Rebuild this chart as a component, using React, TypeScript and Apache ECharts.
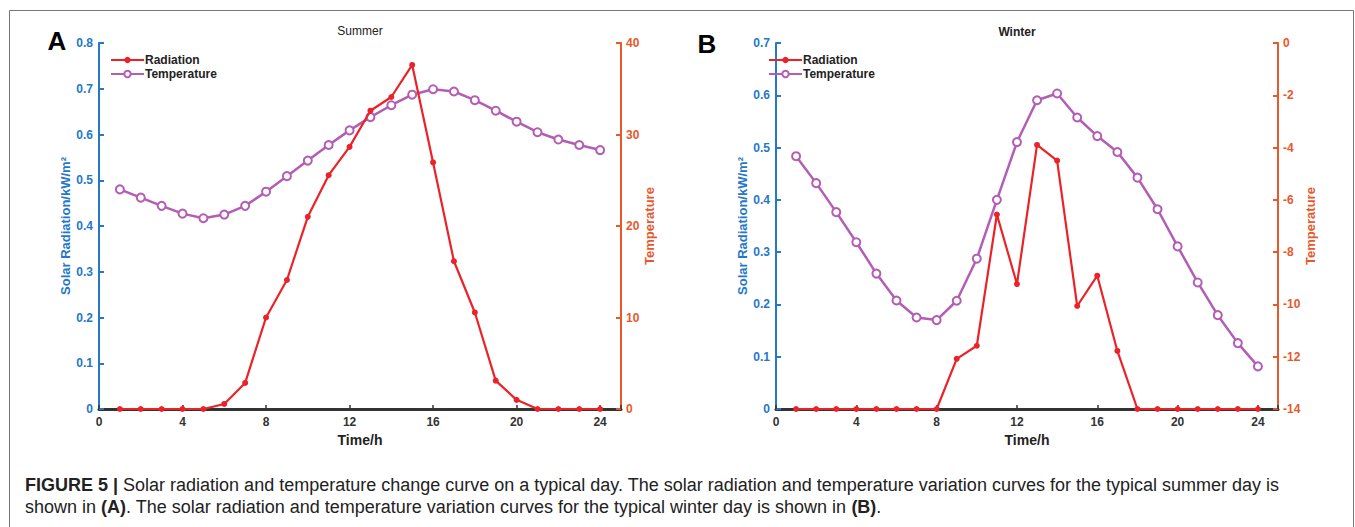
import React, { useEffect, useRef } from "react";
import * as echarts from "echarts";

// Hours of the day (x values)
const hours = [1, 2, 3, 4, 5, 6, 7, 8, 9, 10, 11, 12, 13, 14, 15, 16, 17, 18, 19, 20, 21, 22, 23, 24];

// Summer (panel A)
const summerRadiation = [0, 0, 0, 0, 0, 0.011, 0.057, 0.2, 0.282, 0.42, 0.511, 0.573, 0.652, 0.682, 0.752, 0.539, 0.323, 0.211, 0.062, 0.02, 0, 0, 0, 0];
const summerTemperature = [24.0, 23.1, 22.2, 21.35, 20.85, 21.25, 22.2, 23.75, 25.45, 27.15, 28.85, 30.45, 31.9, 33.2, 34.35, 34.95, 34.7, 33.75, 32.6, 31.4, 30.25, 29.45, 28.85, 28.3];

// Winter (panel B)
const winterRadiation = [0, 0, 0, 0, 0, 0, 0, 0, 0.096, 0.121, 0.372, 0.239, 0.505, 0.475, 0.197, 0.255, 0.111, 0, 0, 0, 0, 0, 0, 0];
const winterTemperature = [-4.33, -5.36, -6.47, -7.62, -8.82, -9.85, -10.5, -10.6, -9.86, -8.25, -6.0, -3.79, -2.19, -1.93, -2.85, -3.56, -4.17, -5.15, -6.36, -7.78, -9.16, -10.41, -11.48, -12.37];

const panelTitles = ["Summer", "Winter"];
const panelLetters = ["A", "B"];
const seriesNames = ["Radiation", "Temperature"];
const xAxisName = "Time/h";
const leftAxisName = "Solar Radiation/kW/m²";
const rightAxisName = "Temperature";
const captionLine1 = "{b|FIGURE 5 |} Solar radiation and temperature change curve on a typical day. The solar radiation and temperature variation curves for the typical summer day is";
const captionLine2 = "shown in {b|(A)}. The solar radiation and temperature variation curves for the typical winter day is shown in {b|(B)}.";

const RED = "#ec2229";
const PURPLE = "#b35db5";
const BLUE = "#2577c9";
const ORANGE = "#e8582d";
const FONT = "'Liberation Sans', Arial, Helvetica, sans-serif";
const CAPTION_SIZE = 18;

function pairs(xs: number[], ys: number[]) {
  return xs.map((x, i) => [x, ys[i]]);
}

export default function App() {
  const ref = useRef<HTMLDivElement>(null);

  useEffect(() => {
    document.body.style.margin = "0";
    if (!ref.current) return;
    const chart = echarts.init(ref.current, null, { renderer: "svg" });

    const xAxisCommon = (gridIndex: number) => ({
      type: "value",
      gridIndex,
      min: 0,
      max: 25,
      interval: 4,
      name: xAxisName,
      nameLocation: "middle",
      nameGap: 21,
      nameTextStyle: { fontFamily: FONT, fontWeight: "bold", fontSize: 14, color: "#222" },
      axisLine: { show: true, onZero: false, lineStyle: { color: "#333", width: 3 } },
      axisTick: { show: true, inside: true, length: 4, lineStyle: { color: "#333", width: 1.5 } },
      axisLabel: {
        margin: 7,
        fontFamily: FONT,
        fontWeight: "bold",
        fontSize: 12,
        color: "#333",
        formatter: (v: number) => (v > 24 ? "" : String(v)),
      },
      splitLine: { show: false },
    });

    const leftAxis = (gridIndex: number, max: number) => ({
      type: "value",
      gridIndex,
      position: "left",
      min: 0,
      max,
      interval: 0.1,
      name: leftAxisName,
      nameLocation: "middle",
      nameRotate: 90,
      nameGap: 26,
      nameTextStyle: { fontFamily: FONT, fontWeight: "bold", fontSize: 13, color: BLUE },
      axisLine: { show: true, lineStyle: { color: BLUE, width: 2 } },
      axisTick: { show: true, inside: true, length: 5, lineStyle: { color: BLUE, width: 2 } },
      axisLabel: { margin: 6, fontFamily: FONT, fontWeight: "bold", fontSize: 12, color: BLUE },
      splitLine: { show: false },
    });

    const rightAxis = (gridIndex: number, min: number, max: number, interval: number) => ({
      type: "value",
      gridIndex,
      position: "right",
      min,
      max,
      interval,
      name: rightAxisName,
      nameLocation: "middle",
      nameRotate: 90,
      nameGap: 22,
      nameTextStyle: { fontFamily: FONT, fontWeight: "bold", fontSize: 13, color: ORANGE },
      axisLine: { show: true, lineStyle: { color: ORANGE, width: 2 } },
      axisTick: { show: true, inside: true, length: 5, lineStyle: { color: ORANGE, width: 2 } },
      axisLabel: { margin: 5, fontFamily: FONT, fontWeight: "bold", fontSize: 12, color: ORANGE },
      splitLine: { show: false },
    });

    const radSeries = (xAxisIndex: number, yAxisIndex: number, data: number[]) => ({
      type: "line",
      name: seriesNames[0],
      xAxisIndex,
      yAxisIndex,
      data: pairs(hours, data),
      symbol: "circle",
      symbolSize: 6,
      z: 3,
      itemStyle: { color: RED },
      lineStyle: { color: RED, width: 2.2 },
    });

    const tempSeries = (xAxisIndex: number, yAxisIndex: number, data: number[]) => ({
      type: "line",
      name: seriesNames[1],
      xAxisIndex,
      yAxisIndex,
      data: pairs(hours, data),
      symbol: "emptyCircle",
      symbolSize: 8,
      z: 2,
      itemStyle: { color: PURPLE, borderColor: PURPLE, borderWidth: 2 },
      lineStyle: { color: PURPLE, width: 2.5 },
    });

    const legendCommon = (left: number) => ({
      left,
      top: 49,
      padding: 5,
      orient: "vertical",
      itemWidth: 33,
      itemHeight: 8,
      itemGap: 2,
      data: seriesNames,
      selectedMode: false,
      textStyle: { fontFamily: FONT, fontWeight: "bold", fontSize: 12, color: "#222", padding: [0, 0, 0, -4] },
    });

    const captionText = (y: number, text: string) => ({
      type: "text",
      x: 25,
      y,
      style: {
        text,
        fontFamily: FONT,
        fontSize: CAPTION_SIZE,
        fill: "#222",
        textVerticalAlign: "middle",
        rich: { b: { fontFamily: FONT, fontSize: CAPTION_SIZE, fontWeight: "bold", fill: "#222" } },
      },
    });

    const option: any = {
      animation: false,
      backgroundColor: "#fff",
      grid: [
        { left: 99, right: 1355 - 621, top: 43, bottom: 527 - 409 },
        { left: 776, right: 1355 - 1278, top: 43, bottom: 527 - 409 },
      ],
      xAxis: [xAxisCommon(0), xAxisCommon(1)],
      yAxis: [
        leftAxis(0, 0.8),
        rightAxis(0, 0, 40, 10),
        leftAxis(1, 0.7),
        rightAxis(1, -14, 0, 2),
      ],
      legend: [legendCommon(105), legendCommon(763)],
      series: [
        radSeries(0, 0, summerRadiation),
        tempSeries(0, 1, summerTemperature),
        radSeries(1, 2, winterRadiation),
        tempSeries(1, 3, winterTemperature),
      ],
      graphic: [
        {
          type: "rect",
          silent: true,
          shape: { x: 9.5, y: 10.5, width: 1344, height: 600 },
          style: { fill: "none", stroke: "#777", lineWidth: 1 },
          z: -10,
        },
        {
          type: "text",
          x: 360,
          y: 31,
          style: { text: panelTitles[0], fontFamily: FONT, fontSize: 12, fill: "#222", textAlign: "center", textVerticalAlign: "middle" },
        },
        {
          type: "text",
          x: 1017,
          y: 32,
          style: { text: panelTitles[1], fontFamily: FONT, fontSize: 12, fontWeight: "bold", fill: "#222", textAlign: "center", textVerticalAlign: "middle" },
        },
        {
          type: "text",
          x: 57,
          y: 41,
          style: { text: panelLetters[0], fontFamily: FONT, fontSize: 26, fontWeight: "bold", fill: "#000", textAlign: "center", textVerticalAlign: "middle" },
        },
        {
          type: "text",
          x: 707,
          y: 44,
          style: { text: panelLetters[1], fontFamily: FONT, fontSize: 26, fontWeight: "bold", fill: "#000", textAlign: "center", textVerticalAlign: "middle" },
        },
        captionText(485, captionLine1),
        captionText(507, captionLine2),
      ],
    };

    chart.setOption(option);
    return () => chart.dispose();
  }, []);

  return <div ref={ref} style={{ position: "absolute", left: 0, top: 0, width: 1355, height: 527 }} />;
}
